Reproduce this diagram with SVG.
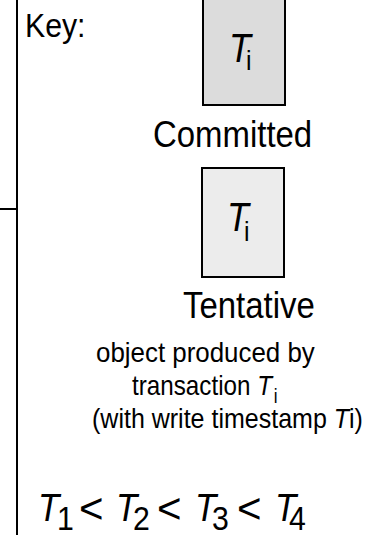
<svg xmlns="http://www.w3.org/2000/svg" width="378" height="535" viewBox="0 0 378 535">
  <style>
    text { font-family: "Liberation Sans", Arial, sans-serif; fill: #000; }
    .it { font-style: italic; }
    .box { stroke: #000; stroke-width: 2; }
    .committed { fill: #dcdcdc; }
    .tentative { fill: #ececec; }
    .rule { stroke: #000; stroke-width: 2; fill: none; }
    .big { font-size: 39px; }
    .sub { font-size: 34px; }
    .lt { font-size: 42px; }
  </style>

  <!-- frame lines on the left -->
  <g id="connectors">
    <line class="rule" x1="17" y1="0" x2="17" y2="535"/>
    <line class="rule" x1="0" y1="209" x2="17" y2="209"/>
  </g>

  <g id="key-label">
    <text transform="translate(25,37) scale(0.89,1)" font-size="34">Key:</text>
  </g>

  <!-- committed version -->
  <g id="committed">
    <rect class="box committed" x="203" y="-4" width="82" height="109"/>
    <text transform="translate(229,62) scale(0.89,1)" class="it" font-size="40">T</text>
    <text transform="translate(246,70) scale(0.89,1)" font-size="28">i</text>
    <text transform="translate(153,147) scale(0.89,1)" font-size="37">Committed</text>
  </g>

  <!-- tentative version -->
  <g id="tentative">
    <rect class="box tentative" x="202" y="168" width="82" height="109"/>
    <text transform="translate(227,231) scale(0.89,1)" class="it" font-size="40">T</text>
    <text transform="translate(244,241) scale(0.89,1)" font-size="28">i</text>
    <text transform="translate(183,318) scale(0.89,1)" font-size="37">Tentative</text>
  </g>

  <!-- explanation -->
  <g id="explanation">
    <text transform="translate(96,362) scale(0.909,1)" font-size="28.5">object produced by</text>
    <text transform="translate(132,395) scale(0.85,1)" font-size="28.5">transaction <tspan class="it">T</tspan><tspan font-size="20" dx="2" dy="8">i</tspan></text>
    <text transform="translate(92,428) scale(0.878,1)" font-size="28.5">(with write timestamp <tspan class="it">T</tspan>i)</text>
  </g>

  <!-- ordering of timestamps -->
  <g id="ordering">
    <text transform="translate(38,521) scale(0.89,1)" class="it big">T</text>
    <text transform="translate(57,530) scale(0.89,1)" class="sub">1</text>
    <text x="79" y="523" class="lt">&lt;</text>
    <text transform="translate(116,521) scale(0.89,1)" class="it big">T</text>
    <text transform="translate(133,530) scale(0.89,1)" class="sub">2</text>
    <text x="157" y="523" class="lt">&lt;</text>
    <text transform="translate(195,521) scale(0.89,1)" class="it big">T</text>
    <text transform="translate(212,530) scale(0.89,1)" class="sub">3</text>
    <text x="237" y="523" class="lt">&lt;</text>
    <text transform="translate(275,521) scale(0.89,1)" class="it big">T</text>
    <text transform="translate(289,530) scale(0.89,1)" class="sub">4</text>
  </g>
</svg>
